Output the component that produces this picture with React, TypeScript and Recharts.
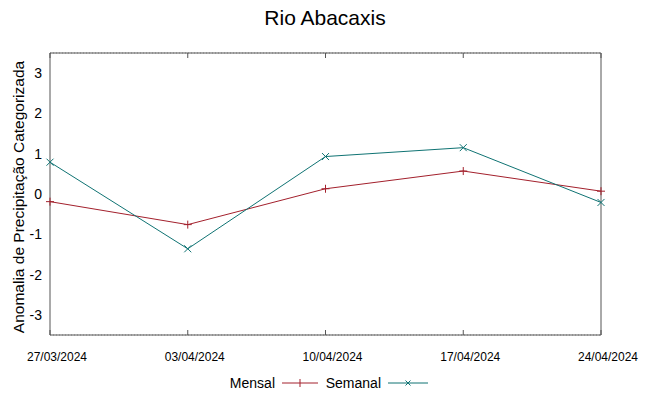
import { LineChart, Line, XAxis, YAxis, CartesianGrid } from "recharts";

const dates = ["27/03/2024", "03/04/2024", "10/04/2024", "17/04/2024", "24/04/2024"];
const mensal = [-0.19, -0.76, 0.13, 0.57, 0.07];
const semanal = [0.79, -1.36, 0.93, 1.15, -0.21];
const yTicks = [-3, -2, -1, 0, 1, 2, 3];

const data = dates.map((d, i) => ({ i, date: d, mensal: mensal[i], semanal: semanal[i] }));

const RED = "#a3202c";
const TEAL = "#0f7373";
const AXIS = "#555";
const FONT = "'Liberation Sans', Arial, sans-serif";

const PlusDot = ({ cx, cy }: any) => (
  <path d={`M${cx - 4},${cy}H${cx + 4}M${cx},${cy - 4}V${cy + 4}`} stroke={RED} strokeWidth={1} fill="none" />
);
const CrossDot = ({ cx, cy }: any) => (
  <path d={`M${cx - 3.5},${cy - 3.5}L${cx + 3.5},${cy + 3.5}M${cx - 3.5},${cy + 3.5}L${cx + 3.5},${cy - 3.5}`} stroke={TEAL} strokeWidth={1} fill="none" />
);

export default function App() {
  return (
    <div style={{ position: "absolute", left: 0, top: 0, width: 649, height: 396, background: "#fff", fontFamily: FONT }}>
      <LineChart width={649} height={396} data={data} margin={{ top: 53, right: 48, bottom: 40, left: 20 }}>
        <CartesianGrid vertical={false} stroke="#999" strokeDasharray="1 2" />
        <XAxis
          xAxisId="b"
          dataKey="i"
          type="number"
          domain={[0, 4]}
          ticks={[0, 1, 2, 3, 4]}
          tickFormatter={(v: number) => dates[v]}
          height={21}
          tickLine={false}
          tickSize={0}
          tickMargin={17}
          axisLine={{ stroke: AXIS }}
          tick={{ fontFamily: FONT, fontSize: 12, fill: "#000", dx: 7 }}
          interval={0}
        />
        <XAxis xAxisId="bm" dataKey="i" type="number" domain={[0, 4]} ticks={[0, 1, 2, 3, 4]} mirror tickSize={5}
          tickFormatter={() => ""} axisLine={false} tickLine={{ stroke: AXIS }} />
        <XAxis xAxisId="t" orientation="top" dataKey="i" type="number" domain={[0, 4]} ticks={[0, 1, 2, 3, 4]} mirror tickSize={5}
          tickFormatter={() => ""} axisLine={{ stroke: AXIS }} tickLine={{ stroke: AXIS }} />
        <YAxis
          yAxisId="l"
          type="number"
          domain={[-3.5, 3.5]}
          ticks={yTicks}
          width={30}
          tickLine={false}
          tickSize={0}
          tickMargin={8}
          axisLine={{ stroke: AXIS }}
          tick={{ fontFamily: FONT, fontSize: 14, fill: "#000" }}
        />
        <YAxis yAxisId="r" orientation="right" type="number" domain={[-3.5, 3.5]} ticks={yTicks} mirror tickSize={5}
          tickFormatter={() => ""} axisLine={{ stroke: AXIS }} tickLine={{ stroke: AXIS }} />
        <Line xAxisId="b" yAxisId="l" dataKey="mensal" stroke={RED} strokeWidth={1} dot={<PlusDot />} activeDot={false} isAnimationActive={false} />
        <Line xAxisId="b" yAxisId="l" dataKey="semanal" stroke={TEAL} strokeWidth={1} dot={<CrossDot />} activeDot={false} isAnimationActive={false} />
      </LineChart>
      <svg width={649} height={396} style={{ position: "absolute", left: 0, top: 0, pointerEvents: "none" }}>
        <text x={325} y={25} textAnchor="middle" fontSize={21} fill="#000" fontFamily={FONT}>Rio Abacaxis</text>
        <text x={0} y={0} transform="translate(24,197) rotate(-90)" textAnchor="middle" fontSize={15.5} fill="#000" fontFamily={FONT}>
          Anomalia de Precipitação Categorizada
        </text>
        <text x={275} y={388} textAnchor="end" fontSize={14} fill="#000" fontFamily={FONT}>Mensal</text>
        <line x1={282} y1={383} x2={318} y2={383} stroke={RED} />
        <path d="M300,379V387" stroke={RED} />
        <text x={381} y={388} textAnchor="end" fontSize={14} fill="#000" fontFamily={FONT}>Semanal</text>
        <line x1={388} y1={383} x2={428} y2={383} stroke={TEAL} />
        <path d="M405.5,380.5L410.5,385.5M405.5,385.5L410.5,380.5" stroke={TEAL} />
      </svg>
    </div>
  );
}
